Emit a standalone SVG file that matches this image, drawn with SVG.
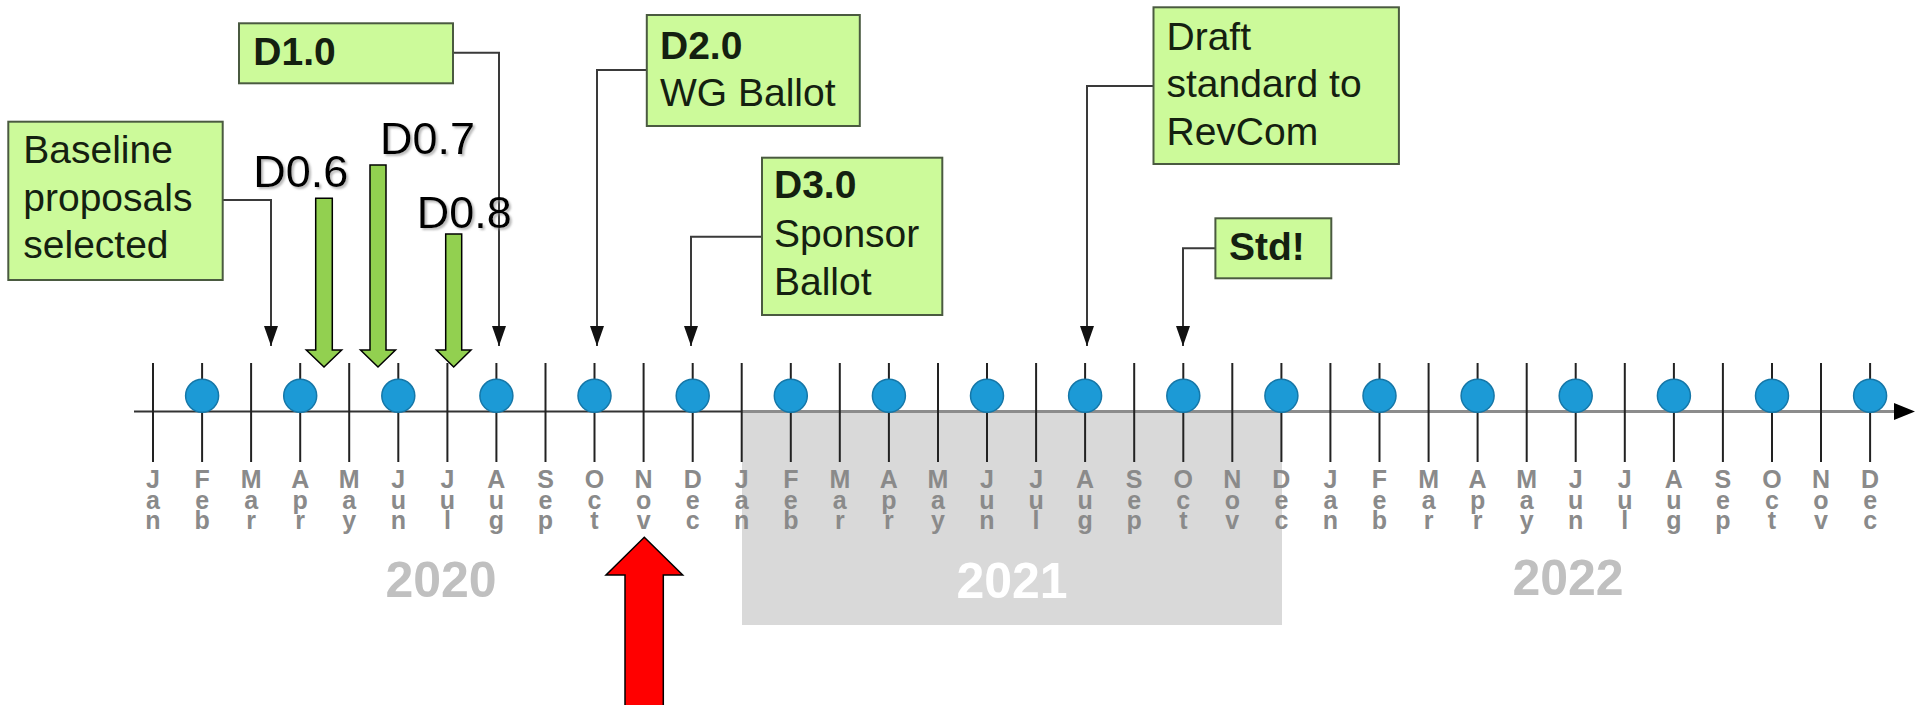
<svg xmlns="http://www.w3.org/2000/svg" width="1915" height="705" viewBox="0 0 1915 705">
<defs>
<style>
.box{fill:#ccfa9a;stroke:#4a5a40;stroke-width:2}
.bt{font-family:"Liberation Sans",Arial,sans-serif;font-size:39px;fill:#142010}
.bb{font-weight:bold}
.conn{fill:none;stroke:#3a3a3a;stroke-width:2}
.tick{stroke:#222;stroke-width:2}
.dot{fill:#1c9ad6;stroke:#1577a8;stroke-width:1.5}
.mon{font-family:"Liberation Sans",Arial,sans-serif;font-size:25px;font-weight:bold;fill:#8a8a8a;text-anchor:middle}
.yr{font-family:"Liberation Sans",Arial,sans-serif;font-size:50px;font-weight:bold;text-anchor:middle}
.dv{font-family:"Liberation Sans",Arial,sans-serif;font-size:45px;fill:#000}
.garr{fill:#92d050;stroke:#000;stroke-width:1.5}
</style>
<marker id="ah" viewBox="0 0 20 14" refX="20" refY="7" markerWidth="20" markerHeight="14" markerUnits="userSpaceOnUse" orient="auto">
<path d="M0,0 L20,7 L0,14 z" fill="#111"/>
</marker>
<filter id="sh" x="-10%" y="-10%" width="130%" height="130%">
<feDropShadow dx="2" dy="2" stdDeviation="1.2" flood-color="#888" flood-opacity="0.6"/>
</filter>
</defs>
<rect width="1915" height="705" fill="#fff"/>

<g id="timeline">
<rect id="band2021" x="742" y="412" width="540" height="213" fill="#d9d9d9"/>
<line x1="134" y1="411.6" x2="742" y2="411.6" stroke="#333" stroke-width="2"/>
<line x1="742" y1="411.6" x2="1896" y2="411.6" stroke="#8c8c8c" stroke-width="3"/>
<polygon points="1894,403 1915,411.6 1894,420" fill="#000"/>
<g id="ticks">
<line class="tick" x1="153" y1="363" x2="153" y2="462"/>
<line class="tick" x1="202.1" y1="363" x2="202.1" y2="462"/>
<line class="tick" x1="251.1" y1="363" x2="251.1" y2="462"/>
<line class="tick" x1="300.2" y1="363" x2="300.2" y2="462"/>
<line class="tick" x1="349.2" y1="363" x2="349.2" y2="462"/>
<line class="tick" x1="398.3" y1="363" x2="398.3" y2="462"/>
<line class="tick" x1="447.4" y1="363" x2="447.4" y2="462"/>
<line class="tick" x1="496.4" y1="363" x2="496.4" y2="462"/>
<line class="tick" x1="545.5" y1="363" x2="545.5" y2="462"/>
<line class="tick" x1="594.5" y1="363" x2="594.5" y2="462"/>
<line class="tick" x1="643.6" y1="363" x2="643.6" y2="462"/>
<line class="tick" x1="692.7" y1="363" x2="692.7" y2="462"/>
<line class="tick" x1="741.7" y1="363" x2="741.7" y2="462"/>
<line class="tick" x1="790.8" y1="363" x2="790.8" y2="462"/>
<line class="tick" x1="839.8" y1="363" x2="839.8" y2="462"/>
<line class="tick" x1="888.9" y1="363" x2="888.9" y2="462"/>
<line class="tick" x1="938" y1="363" x2="938" y2="462"/>
<line class="tick" x1="987" y1="363" x2="987" y2="462"/>
<line class="tick" x1="1036.1" y1="363" x2="1036.1" y2="462"/>
<line class="tick" x1="1085.1" y1="363" x2="1085.1" y2="462"/>
<line class="tick" x1="1134.2" y1="363" x2="1134.2" y2="462"/>
<line class="tick" x1="1183.3" y1="363" x2="1183.3" y2="462"/>
<line class="tick" x1="1232.3" y1="363" x2="1232.3" y2="462"/>
<line class="tick" x1="1281.4" y1="363" x2="1281.4" y2="462"/>
<line class="tick" x1="1330.4" y1="363" x2="1330.4" y2="462"/>
<line class="tick" x1="1379.5" y1="363" x2="1379.5" y2="462"/>
<line class="tick" x1="1428.6" y1="363" x2="1428.6" y2="462"/>
<line class="tick" x1="1477.6" y1="363" x2="1477.6" y2="462"/>
<line class="tick" x1="1526.7" y1="363" x2="1526.7" y2="462"/>
<line class="tick" x1="1575.7" y1="363" x2="1575.7" y2="462"/>
<line class="tick" x1="1624.8" y1="363" x2="1624.8" y2="462"/>
<line class="tick" x1="1673.9" y1="363" x2="1673.9" y2="462"/>
<line class="tick" x1="1722.9" y1="363" x2="1722.9" y2="462"/>
<line class="tick" x1="1772" y1="363" x2="1772" y2="462"/>
<line class="tick" x1="1821" y1="363" x2="1821" y2="462"/>
<line class="tick" x1="1870.1" y1="363" x2="1870.1" y2="462"/>
</g>
<g id="dots">
<circle class="dot" cx="202.1" cy="395.8" r="16.5"/>
<circle class="dot" cx="300.2" cy="395.8" r="16.5"/>
<circle class="dot" cx="398.3" cy="395.8" r="16.5"/>
<circle class="dot" cx="496.4" cy="395.8" r="16.5"/>
<circle class="dot" cx="594.5" cy="395.8" r="16.5"/>
<circle class="dot" cx="692.7" cy="395.8" r="16.5"/>
<circle class="dot" cx="790.8" cy="395.8" r="16.5"/>
<circle class="dot" cx="888.9" cy="395.8" r="16.5"/>
<circle class="dot" cx="987" cy="395.8" r="16.5"/>
<circle class="dot" cx="1085.1" cy="395.8" r="16.5"/>
<circle class="dot" cx="1183.3" cy="395.8" r="16.5"/>
<circle class="dot" cx="1281.4" cy="395.8" r="16.5"/>
<circle class="dot" cx="1379.5" cy="395.8" r="16.5"/>
<circle class="dot" cx="1477.6" cy="395.8" r="16.5"/>
<circle class="dot" cx="1575.7" cy="395.8" r="16.5"/>
<circle class="dot" cx="1673.9" cy="395.8" r="16.5"/>
<circle class="dot" cx="1772" cy="395.8" r="16.5"/>
<circle class="dot" cx="1870.1" cy="395.8" r="16.5"/>
</g>
<g id="months">
<text class="mon" x="153" y="488"><tspan x="153">J</tspan><tspan x="153" dy="20.5">a</tspan><tspan x="153" dy="20.5">n</tspan></text>
<text class="mon" x="202.1" y="488"><tspan x="202.1">F</tspan><tspan x="202.1" dy="20.5">e</tspan><tspan x="202.1" dy="20.5">b</tspan></text>
<text class="mon" x="251.1" y="488"><tspan x="251.1">M</tspan><tspan x="251.1" dy="20.5">a</tspan><tspan x="251.1" dy="20.5">r</tspan></text>
<text class="mon" x="300.2" y="488"><tspan x="300.2">A</tspan><tspan x="300.2" dy="20.5">p</tspan><tspan x="300.2" dy="20.5">r</tspan></text>
<text class="mon" x="349.2" y="488"><tspan x="349.2">M</tspan><tspan x="349.2" dy="20.5">a</tspan><tspan x="349.2" dy="20.5">y</tspan></text>
<text class="mon" x="398.3" y="488"><tspan x="398.3">J</tspan><tspan x="398.3" dy="20.5">u</tspan><tspan x="398.3" dy="20.5">n</tspan></text>
<text class="mon" x="447.4" y="488"><tspan x="447.4">J</tspan><tspan x="447.4" dy="20.5">u</tspan><tspan x="447.4" dy="20.5">l</tspan></text>
<text class="mon" x="496.4" y="488"><tspan x="496.4">A</tspan><tspan x="496.4" dy="20.5">u</tspan><tspan x="496.4" dy="20.5">g</tspan></text>
<text class="mon" x="545.5" y="488"><tspan x="545.5">S</tspan><tspan x="545.5" dy="20.5">e</tspan><tspan x="545.5" dy="20.5">p</tspan></text>
<text class="mon" x="594.5" y="488"><tspan x="594.5">O</tspan><tspan x="594.5" dy="20.5">c</tspan><tspan x="594.5" dy="20.5">t</tspan></text>
<text class="mon" x="643.6" y="488"><tspan x="643.6">N</tspan><tspan x="643.6" dy="20.5">o</tspan><tspan x="643.6" dy="20.5">v</tspan></text>
<text class="mon" x="692.7" y="488"><tspan x="692.7">D</tspan><tspan x="692.7" dy="20.5">e</tspan><tspan x="692.7" dy="20.5">c</tspan></text>
<text class="mon" x="741.7" y="488"><tspan x="741.7">J</tspan><tspan x="741.7" dy="20.5">a</tspan><tspan x="741.7" dy="20.5">n</tspan></text>
<text class="mon" x="790.8" y="488"><tspan x="790.8">F</tspan><tspan x="790.8" dy="20.5">e</tspan><tspan x="790.8" dy="20.5">b</tspan></text>
<text class="mon" x="839.8" y="488"><tspan x="839.8">M</tspan><tspan x="839.8" dy="20.5">a</tspan><tspan x="839.8" dy="20.5">r</tspan></text>
<text class="mon" x="888.9" y="488"><tspan x="888.9">A</tspan><tspan x="888.9" dy="20.5">p</tspan><tspan x="888.9" dy="20.5">r</tspan></text>
<text class="mon" x="938" y="488"><tspan x="938">M</tspan><tspan x="938" dy="20.5">a</tspan><tspan x="938" dy="20.5">y</tspan></text>
<text class="mon" x="987" y="488"><tspan x="987">J</tspan><tspan x="987" dy="20.5">u</tspan><tspan x="987" dy="20.5">n</tspan></text>
<text class="mon" x="1036.1" y="488"><tspan x="1036.1">J</tspan><tspan x="1036.1" dy="20.5">u</tspan><tspan x="1036.1" dy="20.5">l</tspan></text>
<text class="mon" x="1085.1" y="488"><tspan x="1085.1">A</tspan><tspan x="1085.1" dy="20.5">u</tspan><tspan x="1085.1" dy="20.5">g</tspan></text>
<text class="mon" x="1134.2" y="488"><tspan x="1134.2">S</tspan><tspan x="1134.2" dy="20.5">e</tspan><tspan x="1134.2" dy="20.5">p</tspan></text>
<text class="mon" x="1183.3" y="488"><tspan x="1183.3">O</tspan><tspan x="1183.3" dy="20.5">c</tspan><tspan x="1183.3" dy="20.5">t</tspan></text>
<text class="mon" x="1232.3" y="488"><tspan x="1232.3">N</tspan><tspan x="1232.3" dy="20.5">o</tspan><tspan x="1232.3" dy="20.5">v</tspan></text>
<text class="mon" x="1281.4" y="488"><tspan x="1281.4">D</tspan><tspan x="1281.4" dy="20.5">e</tspan><tspan x="1281.4" dy="20.5">c</tspan></text>
<text class="mon" x="1330.4" y="488"><tspan x="1330.4">J</tspan><tspan x="1330.4" dy="20.5">a</tspan><tspan x="1330.4" dy="20.5">n</tspan></text>
<text class="mon" x="1379.5" y="488"><tspan x="1379.5">F</tspan><tspan x="1379.5" dy="20.5">e</tspan><tspan x="1379.5" dy="20.5">b</tspan></text>
<text class="mon" x="1428.6" y="488"><tspan x="1428.6">M</tspan><tspan x="1428.6" dy="20.5">a</tspan><tspan x="1428.6" dy="20.5">r</tspan></text>
<text class="mon" x="1477.6" y="488"><tspan x="1477.6">A</tspan><tspan x="1477.6" dy="20.5">p</tspan><tspan x="1477.6" dy="20.5">r</tspan></text>
<text class="mon" x="1526.7" y="488"><tspan x="1526.7">M</tspan><tspan x="1526.7" dy="20.5">a</tspan><tspan x="1526.7" dy="20.5">y</tspan></text>
<text class="mon" x="1575.7" y="488"><tspan x="1575.7">J</tspan><tspan x="1575.7" dy="20.5">u</tspan><tspan x="1575.7" dy="20.5">n</tspan></text>
<text class="mon" x="1624.8" y="488"><tspan x="1624.8">J</tspan><tspan x="1624.8" dy="20.5">u</tspan><tspan x="1624.8" dy="20.5">l</tspan></text>
<text class="mon" x="1673.9" y="488"><tspan x="1673.9">A</tspan><tspan x="1673.9" dy="20.5">u</tspan><tspan x="1673.9" dy="20.5">g</tspan></text>
<text class="mon" x="1722.9" y="488"><tspan x="1722.9">S</tspan><tspan x="1722.9" dy="20.5">e</tspan><tspan x="1722.9" dy="20.5">p</tspan></text>
<text class="mon" x="1772" y="488"><tspan x="1772">O</tspan><tspan x="1772" dy="20.5">c</tspan><tspan x="1772" dy="20.5">t</tspan></text>
<text class="mon" x="1821" y="488"><tspan x="1821">N</tspan><tspan x="1821" dy="20.5">o</tspan><tspan x="1821" dy="20.5">v</tspan></text>
<text class="mon" x="1870.1" y="488"><tspan x="1870.1">D</tspan><tspan x="1870.1" dy="20.5">e</tspan><tspan x="1870.1" dy="20.5">c</tspan></text>
</g>
<g id="years">
<text class="yr" x="441" y="597" fill="#c0c0c0">2020</text>
<text class="yr" x="1012" y="598" fill="#ffffff">2021</text>
<text class="yr" x="1568" y="595" fill="#c0c0c0">2022</text>
</g>
</g>

<g id="connectors">
<polyline class="conn" points="222.7,200 271,200 271,346" marker-end="url(#ah)"/>
<polyline class="conn" points="453,52.7 499,52.7 499,346" marker-end="url(#ah)"/>
<polyline class="conn" points="646.8,70 597,70 597,346" marker-end="url(#ah)"/>
<polyline class="conn" points="762,236.7 691,236.7 691,346" marker-end="url(#ah)"/>
<polyline class="conn" points="1153.5,86 1087,86 1087,346" marker-end="url(#ah)"/>
<polyline class="conn" points="1215.4,248.3 1183,248.3 1183,346" marker-end="url(#ah)"/>
</g>

<g id="baseline">
<rect class="box" x="8.3" y="121.7" width="214.4" height="158.3"/>
<text class="bt" x="23.3" y="163.3">Baseline</text>
<text class="bt" x="23.3" y="210.5">proposals</text>
<text class="bt" x="23.3" y="258.3">selected</text>
</g>
<g id="d10">
<rect class="box" x="239" y="23.3" width="214" height="60"/>
<text class="bt bb" x="253.3" y="65">D1.0</text>
</g>
<g id="d20">
<rect class="box" x="646.8" y="15" width="213" height="111"/>
<text class="bt bb" x="660" y="59.3">D2.0</text>
<text class="bt" x="660" y="106">WG Ballot</text>
</g>
<g id="d30">
<rect class="box" x="762" y="157.7" width="180.3" height="157.3"/>
<text class="bt bb" x="774" y="198.3">D3.0</text>
<text class="bt" x="774" y="246.7">Sponsor</text>
<text class="bt" x="774" y="295">Ballot</text>
</g>
<g id="draft">
<rect class="box" x="1153.5" y="7.3" width="245.4" height="156.7"/>
<text class="bt" x="1166.5" y="50">Draft</text>
<text class="bt" x="1166.5" y="96.7">standard to</text>
<text class="bt" x="1166.5" y="145">RevCom</text>
</g>
<g id="std">
<rect class="box" x="1215.4" y="218.3" width="115.9" height="60"/>
<text class="bt bb" x="1229" y="260">Std!</text>
</g>

<g id="d06">
<text class="dv" x="253.3" y="187.3" filter="url(#sh)">D0.6</text>
<polygon class="garr" points="315.7,198.3 332.3,198.3 332.3,350 341.7,350 324,367 306.3,350 315.7,350"/>
</g>
<g id="d07">
<text class="dv" x="380" y="154.3" filter="url(#sh)">D0.7</text>
<polygon class="garr" points="370,165 386,165 386,350 395.5,350 378,367 360.5,350 370,350"/>
</g>
<g id="d08">
<text class="dv" x="416.7" y="228.3" filter="url(#sh)">D0.8</text>
<polygon class="garr" points="445.7,234 461.7,234 461.7,350 471,350 453.7,367 436.4,350 445.7,350"/>
</g>

<g id="now">
<polygon points="644.3,537.3 682.7,575 663.3,575 663.3,707 625,707 625,575 606,575" fill="#ff0000" stroke="#000" stroke-width="1.5"/>
</g>
</svg>
